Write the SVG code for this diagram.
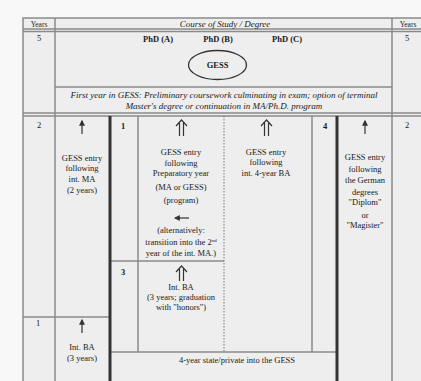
<svg xmlns="http://www.w3.org/2000/svg" width="421" height="381" viewBox="0 0 421 381">
<defs>
<style>
.t{font-family:"Liberation Serif","Times New Roman",serif;font-size:8.5px;fill:#1a1a1a;text-anchor:middle}
.i{font-style:italic;font-size:9px}
.b{font-weight:bold}
.g{stroke:#8a8a8a;stroke-width:1.5;fill:none}
.k{stroke:#333;stroke-width:3;fill:none}
.d{stroke:#8a8a8a;stroke-width:1.2;stroke-dasharray:1.5 1.5;fill:none}
.a{stroke:#333;stroke-width:1.2;fill:none}
</style>
<marker id="ah" viewBox="0 0 10 10" refX="8" refY="5" markerWidth="6" markerHeight="6" orient="auto" markerUnits="userSpaceOnUse">
<path d="M0,0 L10,5 L0,10 Z" fill="#333"/>
</marker>
</defs>
<rect width="421" height="381" fill="#f8f8f8"/>
<rect x="23" y="18" width="410" height="370" fill="#eeeeee" stroke="#8a8a8a" stroke-width="1.5"/>

<g id="grid">
<line class="g" x1="23" y1="29" x2="421" y2="29"/>
<line class="g" x1="23" y1="31.5" x2="421" y2="31.5"/>
<line class="g" x1="55" y1="18" x2="55" y2="381"/>
<line class="g" x1="392" y1="18" x2="392" y2="381"/>
<line class="g" x1="55" y1="87" x2="392" y2="87"/>
<line class="g" x1="23" y1="113" x2="421" y2="113"/>
<line class="g" x1="23" y1="116" x2="421" y2="116"/>
<line class="g" x1="23" y1="317" x2="110" y2="317"/>
<line class="g" x1="138" y1="116" x2="138" y2="352"/>
<line class="d" x1="224" y1="116" x2="224" y2="352"/>
<line class="g" x1="312" y1="116" x2="312" y2="352"/>
<line class="g" x1="110" y1="261" x2="224" y2="261"/>
<line class="g" x1="110" y1="352" x2="337" y2="352"/>
<line class="k" x1="110" y1="116" x2="110" y2="381"/>
<line class="k" x1="337" y1="116" x2="337" y2="381"/>
</g>

<g id="header">
<text class="t" x="39" y="27" style="font-size:7.5px">Years</text>
<text class="t i" x="225" y="27">Course of Study / Degree</text>
<text class="t" x="408" y="27" style="font-size:7.5px">Years</text>
</g>

<g id="years">
<text class="t" x="39" y="41">5</text>
<text class="t" x="407" y="41">5</text>
<text class="t" x="39" y="128">2</text>
<text class="t" x="407" y="128">2</text>
<text class="t" x="38" y="326">1</text>
</g>

<g id="phd">
<text class="t b" x="158" y="42">PhD (A)</text>
<text class="t b" x="218" y="42">PhD (B)</text>
<text class="t b" x="287" y="42">PhD (C)</text>
</g>

<g id="gess">
<ellipse cx="217.5" cy="65" rx="29" ry="14.5" fill="none" stroke="#333" stroke-width="1.3"/>
<text class="t b" x="217.5" y="68">GESS</text>
</g>

<g id="first-year">
<text class="t i" x="224" y="98">First year in GESS: Preliminary coursework culminating in exam; option of terminal</text>
<text class="t i" x="224" y="109">Master's degree or continuation in MA/Ph.D. program</text>
</g>

<g id="int-ma">
<text class="t" x="82" y="161">GESS entry</text>
<text class="t" x="82" y="171">following</text>
<text class="t" x="82" y="182">int. MA</text>
<text class="t" x="82" y="193">(2 years)</text>
</g>

<g id="prep-year">
<text class="t b" x="123" y="129">1</text>
<text class="t" x="181" y="155">GESS entry</text>
<text class="t" x="181" y="166">following</text>
<text class="t" x="181" y="176">Preparatory year</text>
<text class="t" x="181" y="190">(MA or GESS)</text>
<text class="t" x="181" y="203">(program)</text>
<text class="t" x="181" y="233">(alternatively:</text>
<text class="t" x="181" y="245">transition into the 2<tspan dy="-3" style="font-size:5px">nd</tspan></text>
<text class="t" x="181" y="256">year of the int. MA.)</text>
</g>

<g id="int-4yr-ba">
<text class="t" x="266" y="155">GESS entry</text>
<text class="t" x="266" y="165">following</text>
<text class="t" x="266" y="176">int. 4-year BA</text>
</g>

<g id="german-degrees">
<text class="t b" x="325" y="129">4</text>
<text class="t" x="365" y="160">GESS entry</text>
<text class="t" x="365" y="172">following</text>
<text class="t" x="365" y="183">the German</text>
<text class="t" x="365" y="195">degrees</text>
<text class="t" x="365" y="205">"Diplom"</text>
<text class="t" x="365" y="218">or</text>
<text class="t" x="365" y="228">"Magister"</text>
</g>

<g id="int-ba-3">
<text class="t b" x="123" y="275">3</text>
<text class="t" x="181" y="290">Int. BA</text>
<text class="t" x="181" y="300">(3 years; graduation</text>
<text class="t" x="181" y="310">with "honors")</text>
</g>

<g id="int-ba-left">
<text class="t" x="82" y="350">Int. BA</text>
<text class="t" x="82" y="361">(3 years)</text>
</g>

<g id="state-ba">
<text class="t" x="237" y="363">4-year state/private into the GESS</text>
</g>

<g id="connectors">
<line class="a" x1="82" y1="134" x2="82" y2="121" marker-end="url(#ah)"/>
<line class="a" x1="365" y1="134" x2="365" y2="121" marker-end="url(#ah)"/>
<line class="a" x1="82" y1="333" x2="82" y2="320" marker-end="url(#ah)"/>
<path class="a" d="M179.5,136 V123 M183.5,136 V123 M176,126 L181.5,120 L187,126"/>
<path class="a" d="M264.5,136 V123 M268.5,136 V123 M261,126 L266.5,120 L272,126"/>
<path class="a" d="M179.5,281 V269 M183.5,281 V269 M176,272 L181.5,266 L187,272"/>
<line class="a" x1="189" y1="218" x2="175" y2="218" stroke-width="2" marker-end="url(#ah)"/>
</g>
</svg>
